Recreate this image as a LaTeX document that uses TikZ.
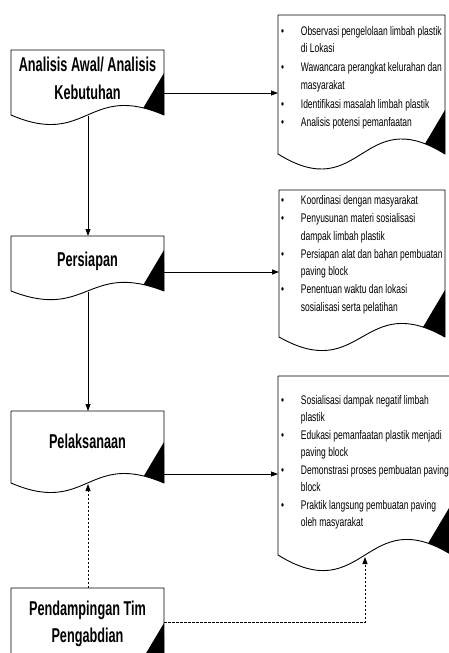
\documentclass[tikz,border=0pt]{standalone}
\usepackage{fontspec}
\setmainfont{Liberation Sans}
\newfontfamily\boxfont{Liberation Sans}[FakeStretch=0.635]
\newfontfamily\listfont{Liberation Sans}[FakeStretch=0.68]
\usetikzlibrary{arrows.meta}
\newcommand\bl{\makebox[19.7pt][l]{\textbullet}}
% #1 x1, #2 x2, #3 top, #4 wave base, #5 wave control offset, #6 top of black corner
\newcommand\docshape[6]{%
  \begin{scope}
    \clip (#1,#3) -- (#2,#3) -- (#2,#4) .. controls ({(#1+#2)/2},{#4-#5}) and ({(#1+#2)/2},{#4+#5}) .. (#1,#4) -- cycle;
    \fill[white] (#1,#3) rectangle (#2,{#4+#5});
    \fill[black] (#2,#6) -- ({#2-38},{#6+64}) -- ({#2+5},{#6+64}) -- cycle;
  \end{scope}
  \draw[outline] (#1,#3) -- (#2,#3) -- (#2,#4) .. controls ({(#1+#2)/2},{#4-#5}) and ({(#1+#2)/2},{#4+#5}) .. (#1,#4) -- cycle;
}
\begin{document}
\begin{tikzpicture}[x=1pt,y=-1pt,
  outline/.style={line width=0.9pt,line join=round},
  conn/.style={line width=0.8pt,-{Triangle[length=7pt,width=5pt]}},
  dconn/.style={conn,dash pattern=on 2.5pt off 1.5pt},
  lbl/.style={inner sep=0pt,font={\boxfont\bfseries\fontsize{20}{27.3}\selectfont}},
  lst/.style={inner sep=0pt,font={\listfont\fontsize{12.5}{17.5}\selectfont}}]
\useasboundingbox (0,0) rectangle (449,653);
\clip (0,0) rectangle (449,653);
\fill[white] (0,0) rectangle (449,653);

% left boxes
\docshape{11}{164}{50}{115}{33}{73}
\docshape{11}{164}{236}{291}{30}{250}
\docshape{11}{164}{411}{483}{33}{442}
\docshape{11}{164}{588}{720}{33}{623}
% right boxes
\docshape{278}{445}{15}{154}{52}{110}
\docshape{279}{445}{190}{337}{47}{290}
\docshape{278}{452}{376}{555}{54}{503}

% labels of left boxes
\node[lbl,anchor=base] (t1) at (87.5,71.7) {\begin{tabular}[t]{@{}c@{}}Analisis Awal/ Analisis\\Kebutuhan\end{tabular}};
\node[lbl,anchor=base] (t2) at (87.5,266.7) {Persiapan};
\node[lbl,anchor=base] (t3) at (87.5,448.3) {Pelaksanaan};
\node[lbl,anchor=base] (t4) at (87.5,615) {\begin{tabular}[t]{@{}c@{}}Pendampingan Tim\\Pengabdian\end{tabular}};

% lists of right boxes
\node[lst,anchor=base west] (r1) at (281,35) {\begin{tabular}[t]{@{}l@{}l@{}}
\bl & Observasi pengelolaan limbah plastik\\
 & di Lokasi\\[1.7pt]
\bl & Wawancara perangkat kelurahan dan\\
 & masyarakat\\[1.7pt]
\bl & Identifikasi masalah limbah plastik\\[0.5pt]
\bl & Analisis potensi pemanfaatan
\end{tabular}};
\node[lst,anchor=base west] (r2) at (281,204.5) {\begin{tabular}[t]{@{}l@{}l@{}}
\bl & Koordinasi dengan masyarakat\\[0.5pt]
\bl & Penyusunan materi sosialisasi\\
 & dampak limbah plastik\\[0.5pt]
\bl & Persiapan alat dan bahan pembuatan\\
 & paving block\\[0.5pt]
\bl & Penentuan waktu dan lokasi\\
 & sosialisasi serta pelatihan
\end{tabular}};
\node[lst,anchor=base west] (r3) at (281,404) {\begin{tabular}[t]{@{}l@{}l@{}}
\bl & Sosialisasi dampak negatif limbah\\
 & plastik\\
\bl & Edukasi pemanfaatan plastik menjadi\\
 & paving block\\
\bl & Demonstrasi proses pembuatan paving\\
 & block\\
\bl & Praktik langsung pembuatan paving\\
 & oleh masyarakat
\end{tabular}};

% connection points
\coordinate (L1r) at (164,93);   \coordinate (R1l) at (278,93);
\coordinate (L2r) at (164,272);  \coordinate (R2l) at (279,272);
\coordinate (L3r) at (164,474);  \coordinate (R3l) at (278,474);
\coordinate (L1b) at (88,115.5); \coordinate (L2t) at (88,236);
\coordinate (L2b) at (88,291.5); \coordinate (L3t) at (88,411);
\coordinate (L3b) at (88,484);   \coordinate (L4t) at (88,588);
\coordinate (L4r) at (164,622);  \coordinate (bend) at (365,622);
\coordinate (R3b) at (365,557);

\draw[conn] (L1r) -- (R1l);
\draw[conn] (L2r) -- (R2l);
\draw[conn] (L3r) -- (R3l);
\draw[conn] (L1b) -- (L2t);
\draw[conn] (L2b) -- (L3t);
\draw[dconn] (L4t) -- (L3b);
\draw[dconn] (L4r) -- (bend) -- (R3b);
\end{tikzpicture}
\end{document}
